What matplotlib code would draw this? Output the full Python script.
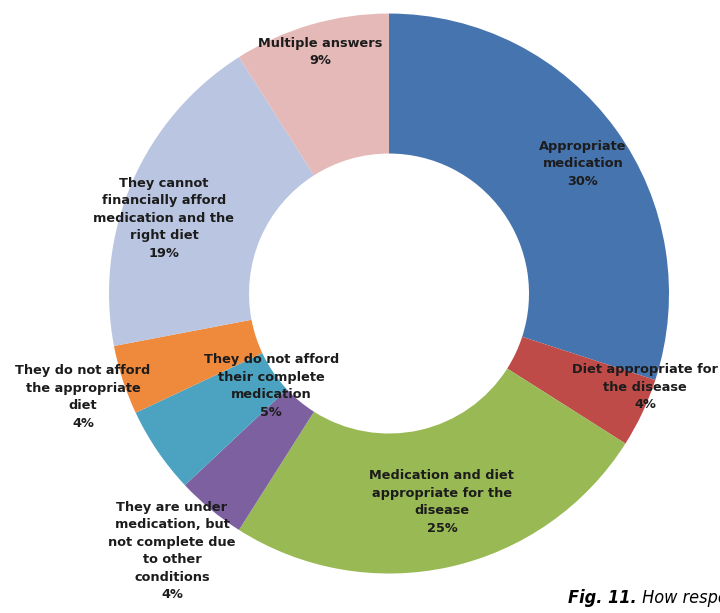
import numpy as np
import matplotlib.pyplot as plt

labels = ["Appropriate\nmedication",
          "Diet appropriate for\nthe disease",
          "Medication and diet\nappropriate for the\ndisease",
          "They are under\nmedication, but\nnot complete due\nto other\nconditions",
          "They do not afford\ntheir complete\nmedication",
          "They do not afford\nthe appropriate\ndiet",
          "They cannot\nfinancially afford\nmedication and the\nright diet",
          "Multiple answers"]
values = [30, 4, 25, 4, 5, 4, 19, 9]
colors = ["#4674AE", "#BE4B48", "#98B954", "#7D60A0",
          "#4BA3C1", "#EF8A3C", "#B9C5E1", "#E5B9B8"]

# label centres (axes data units, donut radius = 1)
label_pos = [(0.693, 0.464), (0.914, -0.334), (0.189, -0.745), (-0.775, -0.920),
             (-0.421, -0.330), (-1.093, -0.370), (-0.804, 0.268), (-0.246, 0.862)]

fig = plt.figure(figsize=(7.2, 6.13), dpi=100)
ax = fig.add_axes([0.1514, 0.0644, 0.7778, 0.9135])

ax.pie(values, colors=colors, startangle=90, counterclock=False, radius=1,
       wedgeprops=dict(width=0.5, linewidth=0))
ax.set_xlim(-1, 1)
ax.set_ylim(-1, 1)
ax.set_aspect("equal")
ax.axis("off")

for lab, val, (x, y) in zip(labels, values, label_pos):
    ax.text(x, y, "%s\n%d%%" % (lab, val), ha="center", va="center",
            fontsize=9.3, fontweight="bold", color="#1c1c1c",
            linespacing=1.45, family=["DejaVu Sans"])

cap_font = ["Liberation Sans Narrow", "DejaVu Sans"]
t1 = fig.text(568 / 720, 1 - 603 / 613, "Fig. 11.", fontsize=13,
              fontweight="bold", style="italic", family=cap_font,
              stretch="condensed", ha="left", va="baseline")
ax.annotate(" How respondents", xy=(1, 0), xycoords=t1, fontsize=13,
            style="italic", family=cap_font, stretch="condensed",
            ha="left", va="bottom", annotation_clip=False)

fig.savefig("out.png", dpi=100)
